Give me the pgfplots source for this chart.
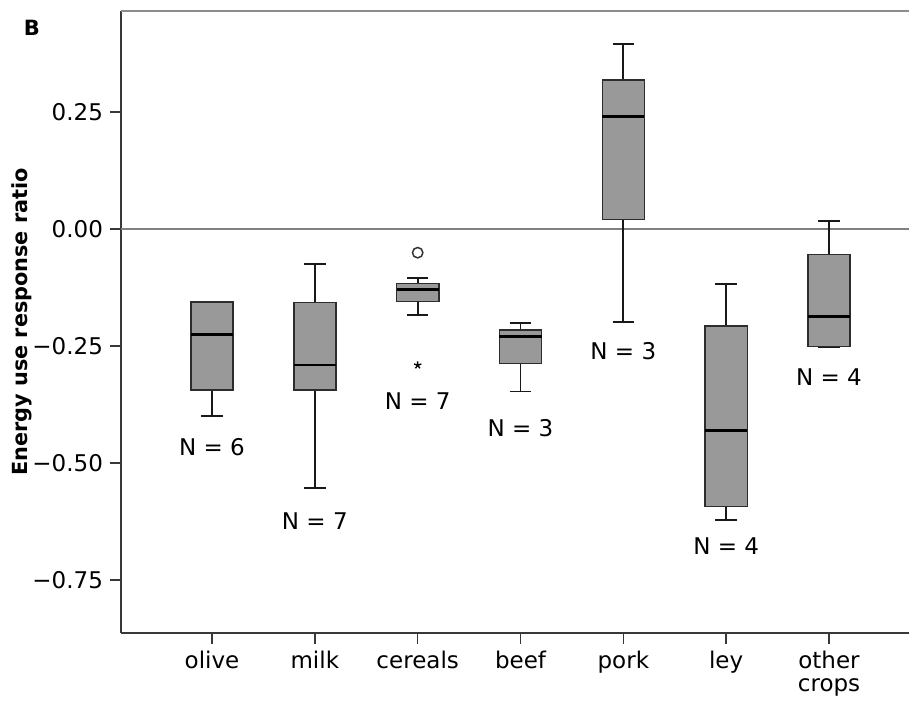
\documentclass[border=0pt]{standalone}
\usepackage{pgfplots}
\pgfplotsset{compat=1.18}
\usepgfplotslibrary{statistics}
\usepackage{fontspec}
\setmainfont{DejaVu Sans}
\definecolor{boxfill}{RGB}{153,153,153}
\definecolor{boxedge}{RGB}{45,45,45}
\begin{document}
\begin{tikzpicture}
\begin{axis}[name=ax, scale only axis, width=394pt, height=310.85pt,
  xmin=-0.885, xmax=6.778, ymin=-0.8626, ymax=0.4658,
  axis x line*=bottom, axis y line*=left,
  axis line style={draw=black!78, line width=0.8pt},
  xtick={0,1,2,3,4,5,6},
  xticklabels={olive,milk,cereals,beef,pork,ley,{other\\crops}},
  xticklabel style={align=center, font=\fontsize{11.5}{11.6}\selectfont},
  ytick={-0.75,-0.5,-0.25,0,0.25},
  yticklabels={−0.75,−0.50,−0.25,0.00,0.25},
  yticklabel style={font=\fontsize{11.5}{13}\selectfont},
  tick align=outside, major tick length=5.5pt,
  tick style={draw=black!78, line width=0.8pt},
  ylabel={Energy use response ratio},
  ylabel style={font=\bfseries\fontsize{10.4}{12}\selectfont, at={(axis description cs:-0.1256,0.5)}, anchor=center},
  boxplot/draw direction=y,
  boxplot/box extend=0.41, boxplot/whisker extend=0.21,
  boxplot/every median/.style={draw=black, line width=1.3pt},
  boxplot/every box/.style={draw=boxedge, fill=boxfill, line width=0.75pt},
  boxplot/every whisker/.style={draw=black!90, line width=0.9pt},
]
\addplot[draw=black!50, line width=0.9pt, forget plot] coordinates {(-0.885,0) (6.778,0)};
% olive
\addplot[boxplot prepared={lower whisker=-0.400, lower quartile=-0.344, median=-0.225, upper quartile=-0.156, upper whisker=-0.156, draw position=0}] coordinates {};
% milk
\addplot[boxplot prepared={lower whisker=-0.553, lower quartile=-0.344, median=-0.291, upper quartile=-0.157, upper whisker=-0.0755, draw position=1}] coordinates {};
% cereals
\addplot[boxplot prepared={lower whisker=-0.184, lower quartile=-0.155, median=-0.129, upper quartile=-0.116, upper whisker=-0.105, draw position=2}] coordinates {};
% beef
\addplot[boxplot prepared={lower whisker=-0.347, lower quartile=-0.287, median=-0.230, upper quartile=-0.216, upper whisker=-0.2015, draw position=3}] coordinates {};
% pork
\addplot[boxplot prepared={lower whisker=-0.199, lower quartile=0.0207, median=0.241, upper quartile=0.318, upper whisker=0.396, draw position=4}] coordinates {};
% ley
\addplot[boxplot prepared={lower whisker=-0.622, lower quartile=-0.593, median=-0.430, upper quartile=-0.207, upper whisker=-0.1175, draw position=5}] coordinates {};
% other crops
\addplot[boxplot prepared={lower whisker=-0.253, lower quartile=-0.251, median=-0.187, upper quartile=-0.055, upper whisker=0.017, draw position=6}] coordinates {};
% outliers
\addplot[only marks, mark=o, mark size=2.6pt, draw=black!80, mark options={line width=0.75pt}] coordinates {(2,-0.0506)};
\addplot[only marks, mark=star, mark size=1.9pt, draw=black, mark options={line width=0.7pt}] coordinates {(2,-0.291)};
% N labels
\begin{scope}[every node/.style={font=\fontsize{11.5}{13}\selectfont, anchor=center}]
\node at (axis cs:0,-0.467) {N = 6};
\node at (axis cs:1,-0.624) {N = 7};
\node at (axis cs:2,-0.368) {N = 7};
\node at (axis cs:3,-0.425) {N = 3};
\node at (axis cs:4,-0.260) {N = 3};
\node at (axis cs:5,-0.677) {N = 4};
\node at (axis cs:6,-0.3156) {N = 4};
\end{scope}
\draw[black!45, line width=0.9pt] (rel axis cs:0,1) -- (rel axis cs:1,1);
\end{axis}
\node[font=\bfseries\fontsize{10.5}{11}\selectfont] at ([xshift=-44.5pt,yshift=-8.5pt]ax.north west) {B};
\pgfresetboundingbox
\path ([shift={(-60.5pt,-34.15pt)}]ax.south west) rectangle ([shift={(0pt,5.5pt)}]ax.north east);
\end{tikzpicture}
\end{document}
